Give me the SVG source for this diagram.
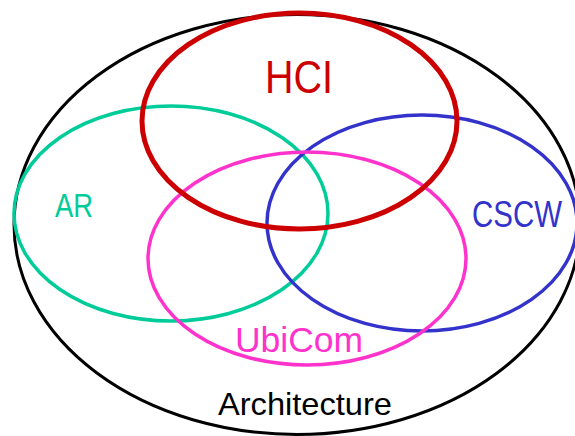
<svg xmlns="http://www.w3.org/2000/svg" width="575" height="436" viewBox="0 0 575 436">
<style>
.set{fill:none}
.lbl{font-family:"Liberation Sans",Arial,sans-serif}
</style>
<rect width="575" height="436" fill="#fff"/>
<g id="architecture">
<ellipse class="set" cx="297" cy="224.5" rx="283" ry="210" stroke="#000" stroke-width="3"/>
<text class="lbl" x="218" y="415" font-size="32" fill="#000" textLength="174" lengthAdjust="spacingAndGlyphs">Architecture</text>
</g>
<g id="ar">
<ellipse class="set" cx="171" cy="213.5" rx="157" ry="107.5" stroke="#00CC99" stroke-width="3.5"/>
<text class="lbl" x="55" y="217" font-size="33" fill="#00CC99" textLength="38" lengthAdjust="spacingAndGlyphs">AR</text>
</g>
<g id="cscw">
<ellipse class="set" cx="422" cy="223" rx="155" ry="108" stroke="#3333CC" stroke-width="3.5"/>
<text class="lbl" x="472" y="227" font-size="37" fill="#3333CC" textLength="90" lengthAdjust="spacingAndGlyphs">CSCW</text>
</g>
<g id="ubicom">
<ellipse class="set" cx="307" cy="258.5" rx="159" ry="106.5" stroke="#FF33CC" stroke-width="3.5"/>
<text class="lbl" x="235" y="352" font-size="35" fill="#FF33CC" textLength="128" lengthAdjust="spacingAndGlyphs">UbiCom</text>
</g>
<g id="hci">
<ellipse class="set" cx="299.5" cy="121" rx="157.5" ry="108" stroke="#CC0000" stroke-width="5"/>
<text class="lbl" x="265" y="93" font-size="46" fill="#CC0000" textLength="68" lengthAdjust="spacingAndGlyphs">HCI</text>
</g>
<g id="connectors"/>
</svg>
